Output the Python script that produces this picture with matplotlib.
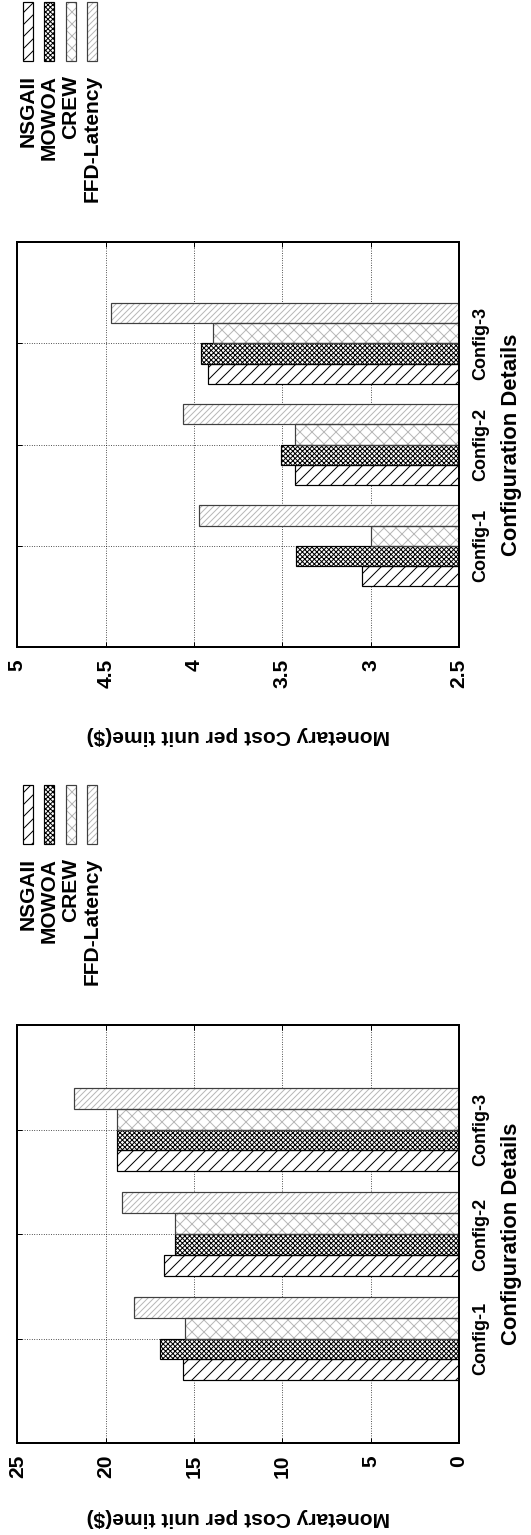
import matplotlib
matplotlib.use('Agg')
import matplotlib.pyplot as plt
from matplotlib.patches import Rectangle
from matplotlib.ticker import FuncFormatter

plt.rcParams['font.family'] = ['Liberation Sans', 'DejaVu Sans']
plt.rcParams['font.weight'] = 'bold'
plt.rcParams['hatch.linewidth'] = 1.0

configs = ['Config-1', 'Config-2', 'Config-3']
methods = ['NSGAII', 'MOWOA', 'CREW', 'FFD-Latency']

# cost per unit time, full range chart
nsgaii_full = [15.6, 16.7, 19.35]
mowoa_full = [16.9, 16.05, 19.35]
crew_full = [15.5, 16.05, 19.35]
ffd_full = [18.4, 19.1, 21.8]

# cost per unit time, zoomed chart
nsgaii_zoom = [3.05, 3.43, 3.92]
mowoa_zoom = [3.42, 3.51, 3.96]
crew_zoom = [3.0, 3.43, 3.89]
ffd_zoom = [3.97, 4.06, 4.47]

full_ticks = [0, 5, 10, 15, 20, 25]
zoom_ticks = [2.5, 3, 3.5, 4, 4.5, 5]

# hatch, hatch colour, outline colour for each method
styles = [
    ('//', 'black', 'black'),
    ('xxxxx', 'black', 'black'),
    ('xx', '#b8b8b8', '#404040'),
    ('////', '#b8b8b8', '#404040'),
]

W, H = 531, 1535
DPI = 72
fig = plt.figure(figsize=(W / DPI, H / DPI), dpi=DPI)

ax_zoom = fig.add_axes([17.3 / W, 1 - 647 / H, 441.7 / W, 405 / H])
ax_full = fig.add_axes([17.3 / W, 1 - 1443 / H, 441.7 / W, 418 / H])


def draw_bars(ax, series, lim, ticks, label_off):
    idx = list(range(len(configs)))
    bw = 0.2
    for k, vals in enumerate(series):
        hatch, hcol, ecol = styles[k]
        pos = [i + (k - 1.5) * bw for i in idx]
        ax.barh(pos, vals, height=bw, color='white', edgecolor=hcol,
                hatch=hatch, linewidth=0, zorder=2)
        ax.barh(pos, vals, height=bw, color='none', edgecolor=ecol,
                linewidth=1.2, zorder=3)
    ax.set_xlim(lim[1], lim[0])
    ax.set_ylim(-1, 3)
    ax.set_xticks(ticks)
    ax.xaxis.set_major_formatter(FuncFormatter(lambda v, p: '%g' % v))
    ax.set_yticks(idx)
    ax.set_yticklabels(configs)
    ax.yaxis.tick_right()
    ax.tick_params(axis='x', direction='in', length=5, width=1, top=True,
                   labelsize=21, labelrotation=90, pad=12)
    ax.tick_params(axis='y', direction='in', length=5, width=1, left=True,
                   labelsize=18, labelrotation=90, pad=13)
    for lab in ax.get_yticklabels():
        lab.set_verticalalignment('center')
        lab.set_horizontalalignment('left')
    ax.grid(True, color='black', linestyle=(0, (1, 2)), linewidth=0.8)
    ax.set_axisbelow(True)
    for sp in ax.spines.values():
        sp.set_linewidth(2)
        sp.set_zorder(5)
    ax.annotate('Monetary Cost per unit time($)', xy=(0.5, 0),
                xycoords='axes fraction', xytext=(0, -label_off),
                textcoords='offset points', rotation=180, ha='center',
                va='center', fontsize=21)
    ax.annotate('Configuration Details', xy=(1, 0.5),
                xycoords='axes fraction', xytext=(52, 0),
                textcoords='offset points', rotation=90, ha='center',
                va='center', fontsize=22)

    # key above the plot
    box = ax.get_position()
    top_px = (1 - box.y1) * H
    left_px = box.x0 * W
    for k, name in enumerate(methods):
        hatch, hcol, ecol = styles[k]
        cx = left_px + 10.7 + 21.4 * k
        y0 = 1 - (top_px - 181) / H
        fig.add_artist(Rectangle(((cx - 5) / W, y0), 10 / W, 59 / H,
                                 transform=fig.transFigure, facecolor='white',
                                 edgecolor=hcol, hatch=hatch, linewidth=0))
        fig.add_artist(Rectangle(((cx - 5) / W, y0), 10 / W, 59 / H,
                                 transform=fig.transFigure, facecolor='none',
                                 edgecolor=ecol, linewidth=1.2))
        fig.text(cx / W, 1 - (top_px - 167) / H, name, rotation=90,
                 ha='center', va='top', fontsize=21)


draw_bars(ax_zoom, [nsgaii_zoom, mowoa_zoom, crew_zoom, ffd_zoom],
          (2.5, 5), zoom_ticks, 88)
draw_bars(ax_full, [nsgaii_full, mowoa_full, crew_full, ffd_full],
          (0, 25), full_ticks, 75)

fig.savefig('out.png', dpi=DPI, facecolor='white')
